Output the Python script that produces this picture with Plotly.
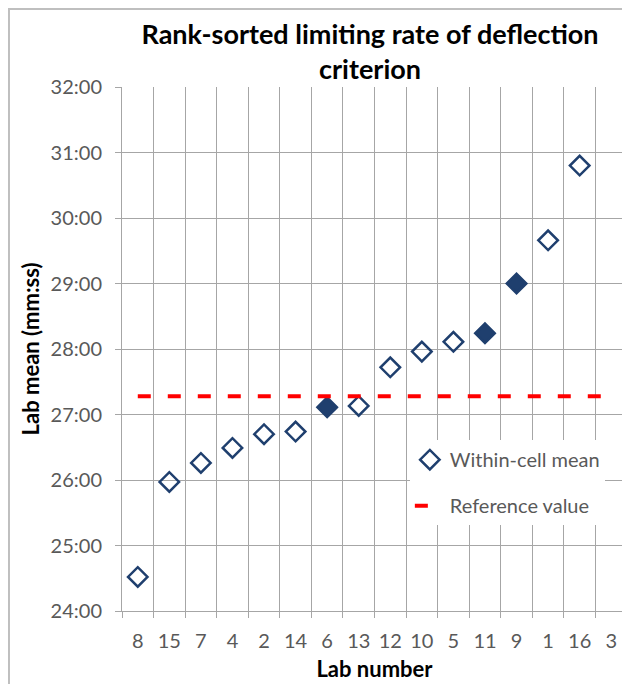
import plotly.graph_objects as go

labs = ['8', '15', '7', '4', '2', '14', '6', '13', '12', '10', '5', '11', '9', '1', '16', '3']
lab_means = [24.52, 25.97, 26.26, 26.49, 26.70, 26.74, 27.11, 27.13, 27.72, 27.96,
             28.11, 28.24, 29.00, 29.66, 30.80, None]
filled_labs = ['6', '11', '9']
reference_value = 27.28
y_ticks = [24, 25, 26, 27, 28, 29, 30, 31, 32]
y_tick_labels = ['24:00', '25:00', '26:00', '27:00', '28:00', '29:00', '30:00', '31:00', '32:00']

navy = '#1F3F6E'
grid = '#A6A6A6'
font = 'Lato, Open Sans, sans-serif'

symbols = ['diamond' if lab in filled_labs else 'diamond-open' for lab in labs]

fig = go.Figure()
fig.add_trace(go.Scatter(
    x=labs, y=lab_means, mode='markers', name='Within-cell mean',
    marker=dict(symbol=symbols, size=15, color=navy, line=dict(color=navy, width=2.5)),
    legendgroup='a'
))
fig.add_trace(go.Scatter(
    x=[labs[0], labs[-1]], y=[reference_value, reference_value], mode='lines',
    name='Reference value', line=dict(color='#FF0000', width=4, dash='13px,17px'),
    legendgroup='b'
))

# the page body adds an 8px margin, so the figure is sized/offset to suit
fig.update_layout(
    width=622, height=676,
    margin=dict(l=114, r=3, t=79, b=73),
    paper_bgcolor='white', plot_bgcolor='white',
    font=dict(family=font, size=20, color='#595959'),
    title=dict(text='<b>Rank-sorted limiting rate of deflection<br>criterion</b>',
               x=0.582, xanchor='center', y=0.9467, yanchor='middle',
               font=dict(size=27, color='black')),
    xaxis=dict(
        type='category', categoryorder='array', categoryarray=labs,
        range=[-0.5, 15.5], tickson='boundaries', ticks='outside', ticklen=6,
        tickcolor=grid, showgrid=True, gridcolor=grid, gridwidth=1,
        showline=True, linecolor=grid, zeroline=False, automargin=False,
        tickangle=0, ticklabelstandoff=12,
        title=dict(text='<b>Lab number</b>', font=dict(size=22, color='black'), standoff=10),
        tickfont=dict(size=20, color='#595959'),
    ),
    yaxis=dict(
        range=[24, 32], tickvals=y_ticks, ticktext=y_tick_labels,
        ticks='outside', ticklen=6, tickcolor=grid,
        showgrid=True, gridcolor=grid, gridwidth=1,
        showline=True, linecolor=grid, zeroline=False, automargin=False,
        ticklabelstandoff=9,
        title=dict(text='<b>Lab mean (mm:ss)</b>', font=dict(size=22, color='black'), standoff=4),
        tickfont=dict(size=20, color='#595959'),
    ),
    legend=dict(
        x=0.57, y=0.326, xanchor='left', yanchor='top',
        bgcolor='white', borderwidth=0, tracegroupgap=17,
        font=dict(size=20, color='#595959'),
    ),
    shapes=[dict(type='rect', xref='paper', yref='paper',
                 x0=-0.2238, x1=1.2, y0=-0.3, y1=1.1489,
                 line=dict(color='#BFBFBF', width=2), layer='below')],
)

fig.write_html('out.html')
